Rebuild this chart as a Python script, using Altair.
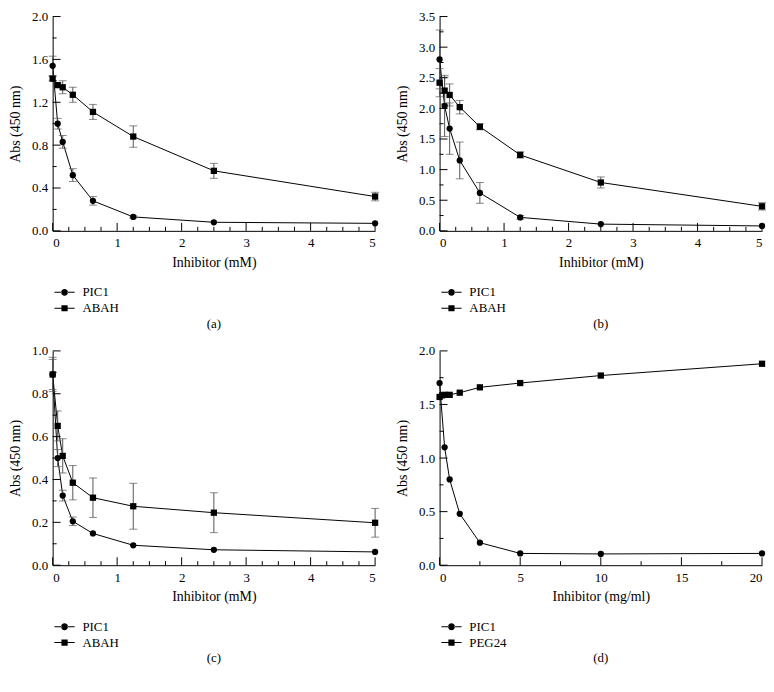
import altair as alt
import pandas as pd

FONT = "Liberation Serif, Times New Roman, serif"
W, H = 325, 216

# ---- panel (a)
a_pic1_x = [0, 0.078, 0.156, 0.3125, 0.625, 1.25, 2.5, 5]
a_pic1_y = [1.54, 1.00, 0.83, 0.52, 0.28, 0.13, 0.08, 0.07]
a_pic1_e = [0.09, 0.05, 0.06, 0.06, 0.04, 0.01, 0.0, 0.0]
a_abah_x = [0, 0.078, 0.156, 0.3125, 0.625, 1.25, 2.5, 5]
a_abah_y = [1.42, 1.36, 1.34, 1.27, 1.11, 0.88, 0.56, 0.32]
a_abah_e = [0.02, 0.02, 0.06, 0.07, 0.07, 0.10, 0.07, 0.04]

# ---- panel (b)
b_pic1_x = [0, 0.078, 0.156, 0.3125, 0.625, 1.25, 2.5, 5]
b_pic1_y = [2.80, 2.04, 1.67, 1.15, 0.62, 0.22, 0.11, 0.08]
b_pic1_e = [0.48, 0.50, 0.42, 0.30, 0.17, 0.03, 0.0, 0.0]
b_abah_x = [0, 0.078, 0.156, 0.3125, 0.625, 1.25, 2.5, 5]
b_abah_y = [2.42, 2.29, 2.22, 2.02, 1.70, 1.24, 0.79, 0.40]
b_abah_e = [0.23, 0.22, 0.18, 0.11, 0.05, 0.05, 0.09, 0.06]

# ---- panel (c)
c_pic1_x = [0, 0.078, 0.156, 0.3125, 0.625, 1.25, 2.5, 5]
c_pic1_y = [0.89, 0.50, 0.325, 0.205, 0.148, 0.093, 0.072, 0.062]
c_pic1_e = [0.07, 0.04, 0.025, 0.02, 0.0, 0.0, 0.0, 0.0]
c_abah_x = [0, 0.078, 0.156, 0.3125, 0.625, 1.25, 2.5, 5]
c_abah_y = [0.89, 0.65, 0.51, 0.385, 0.315, 0.275, 0.245, 0.198]
c_abah_e = [0.08, 0.07, 0.08, 0.08, 0.092, 0.107, 0.093, 0.067]

# ---- panel (d)
d_pic1_x = [0, 0.3125, 0.625, 1.25, 2.5, 5, 10, 20]
d_pic1_y = [1.70, 1.10, 0.80, 0.48, 0.21, 0.11, 0.105, 0.11]
d_pic1_e = [0, 0, 0, 0, 0, 0, 0, 0]
d_peg_x = [0, 0.156, 0.3125, 0.625, 1.25, 2.5, 5, 10, 20]
d_peg_y = [1.57, 1.585, 1.59, 1.59, 1.61, 1.66, 1.70, 1.77, 1.88]
d_peg_e = [0, 0, 0, 0, 0, 0, 0, 0, 0]

# ---- axes ticks / labels
x_mm_major = [0, 1, 2, 3, 4, 5]
x_mm_minor = [0.25, 0.5, 0.75, 1.25, 1.5, 1.75, 2.25, 2.5, 2.75,
              3.25, 3.5, 3.75, 4.25, 4.5, 4.75]
x_mg_major = [0, 5, 10, 15, 20]
x_mg_minor = [2.5, 7.5, 12.5, 17.5]
ya_major = [0.0, 0.4, 0.8, 1.2, 1.6, 2.0]
ya_minor = [0.2, 0.6, 1.0, 1.4, 1.8]
yb_major = [0.0, 0.5, 1.0, 1.5, 2.0, 2.5, 3.0, 3.5]
yb_minor = [0.25, 0.75, 1.25, 1.75, 2.25, 2.75, 3.25]
yc_major = [0.0, 0.2, 0.4, 0.6, 0.8, 1.0]
yc_minor = [0.1, 0.3, 0.5, 0.7, 0.9]
yd_major = [0.0, 0.5, 1.0, 1.5, 2.0]
yd_minor = [0.25, 0.75, 1.25, 1.75]

# legend glyphs: a short line (two thin bars) with the marker in the middle
CIRCLE_PATH = ("M-1.7,-0.085H-0.5V0.085H-1.7Z M0.5,-0.085H1.7V0.085H0.5Z "
               "M-0.58,0A0.58,0.58 0 1,0 0.58,0A0.58,0.58 0 1,0 -0.58,0Z")
SQUARE_PATH = ("M-1.7,-0.085H-0.5V0.085H-1.7Z M0.5,-0.085H1.7V0.085H0.5Z "
               "M-0.52,-0.52H0.52V0.52H-0.52Z")


def panel(s1, x1, y1, e1, s2, x2, y2, e2, xdom, xmaj, xmin, ydom, ymaj, ymin, xtitle, caption):
    rows = []
    for name, xs, ys, es in [(s1, x1, y1, e1), (s2, x2, y2, e2)]:
        for xv, yv, ev in zip(xs, ys, es):
            rows.append({"x": xv, "y": yv, "lo": yv - ev, "hi": yv + ev, "e": ev, "series": name})
    df = pd.DataFrame(rows)
    dom = [s1, s2]

    xs = alt.Scale(domain=xdom, nice=False, zero=False)
    ys = alt.Scale(domain=ydom, nice=False, zero=False)
    xaxis = alt.Axis(values=xmaj, format="d", title=xtitle)
    yaxis = alt.Axis(values=ymaj, format=".1f", title="Abs (450 nm)")
    X = alt.X("x:Q", scale=xs, axis=xaxis)
    Y = alt.Y("y:Q", scale=ys, axis=yaxis)

    base = alt.Chart(df)
    lines = base.mark_line(color="black", strokeWidth=1).encode(x=X, y=Y, detail="series:N")
    eb = base.transform_filter("datum.e > 0")
    rules = eb.mark_rule(color="#555", strokeWidth=1).encode(
        x=X, y=alt.Y("lo:Q", scale=ys, axis=yaxis), y2="hi:Q")
    cap_lo = eb.mark_tick(orient="horizontal", size=8, thickness=1, color="#555").encode(
        x=X, y=alt.Y("lo:Q", scale=ys, axis=yaxis))
    cap_hi = eb.mark_tick(orient="horizontal", size=8, thickness=1, color="#555").encode(
        x=X, y=alt.Y("hi:Q", scale=ys, axis=yaxis))
    pts = base.mark_point(filled=True, color="black", size=40, opacity=1).encode(
        x=X, y=Y,
        shape=alt.Shape("series:N", scale=alt.Scale(domain=dom, range=["circle", "square"]),
                        legend=None))
    leg = base.transform_filter("datum.y > 1000").mark_point(filled=True, color="black").encode(
        x=X, y=Y,
        shape=alt.Shape("series:N",
                        scale=alt.Scale(domain=dom, range=[CIRCLE_PATH, SQUARE_PATH]),
                        legend=alt.Legend(title=None, orient="none", legendX=5, legendY=H + 55,
                                          direction="vertical", symbolSize=144,
                                          symbolFillColor="black", symbolOpacity=1,
                                          labelFont=FONT, labelFontSize=13, labelColor="black",
                                          labelOffset=11, rowPadding=2, padding=0)))

    ytick_df = pd.DataFrame({"v": ymaj + ymin, "len": [8] * len(ymaj) + [4] * len(ymin)})
    xtick_df = pd.DataFrame({"v": xmaj + xmin, "len": [8] * len(xmaj) + [4] * len(xmin)})
    YT = alt.Y("v:Q", scale=ys, axis=yaxis)
    XT = alt.X("v:Q", scale=xs, axis=xaxis)
    ymajor_t = alt.Chart(ytick_df).transform_filter("datum.len == 8").mark_rule(color="black").encode(
        y=YT, x=alt.value(0), x2=alt.value(8))
    yminor_t = alt.Chart(ytick_df).transform_filter("datum.len == 4").mark_rule(color="black").encode(
        y=YT, x=alt.value(0), x2=alt.value(4))
    xmajor_t = alt.Chart(xtick_df).transform_filter("datum.len == 8").mark_rule(color="black").encode(
        x=XT, y=alt.value(H), y2=alt.value(H - 8))
    xminor_t = alt.Chart(xtick_df).transform_filter("datum.len == 4").mark_rule(color="black").encode(
        x=XT, y=alt.value(H), y2=alt.value(H - 4))

    return alt.layer(lines, rules, cap_lo, cap_hi, pts, leg,
                     ymajor_t, yminor_t, xmajor_t, xminor_t).resolve_scale(
        shape="independent").properties(
        width=W, height=H,
        title=alt.TitleParams(caption, orient="bottom", anchor="middle", font=FONT,
                              fontSize=13, fontWeight="normal", color="black", offset=3))


pa = panel("PIC1", a_pic1_x, a_pic1_y, a_pic1_e, "ABAH", a_abah_x, a_abah_y, a_abah_e,
           [0, 5], x_mm_major, x_mm_minor, [0, 2.0], ya_major, ya_minor, "Inhibitor (mM)", "(a)")
pb = panel("PIC1", b_pic1_x, b_pic1_y, b_pic1_e, "ABAH", b_abah_x, b_abah_y, b_abah_e,
           [0, 5], x_mm_major, x_mm_minor, [0, 3.5], yb_major, yb_minor, "Inhibitor (mM)", "(b)")
pc = panel("PIC1", c_pic1_x, c_pic1_y, c_pic1_e, "ABAH", c_abah_x, c_abah_y, c_abah_e,
           [0, 5], x_mm_major, x_mm_minor, [0, 1.0], yc_major, yc_minor, "Inhibitor (mM)", "(c)")
pd_ = panel("PIC1", d_pic1_x, d_pic1_y, d_pic1_e, "PEG24", d_peg_x, d_peg_y, d_peg_e,
            [0, 20], x_mg_major, x_mg_minor, [0, 2.0], yd_major, yd_minor, "Inhibitor (mg/ml)", "(d)")

chart = alt.concat(pa, pb, pc, pd_, columns=2, spacing={"row": 14, "column": 16}).properties(
    padding={"left": 0, "top": 0, "right": 0, "bottom": 0}
).configure_view(stroke=None).configure_axis(
    ticks=False, grid=False, domainColor="black", labelOverlap=False, labelBound=False,
    labelFont=FONT, labelFontSize=13, labelColor="black",
    titleFont=FONT, titleFontSize=14, titleFontWeight="normal", titleColor="black"
).configure_axisX(labelPadding=6, titlePadding=6).configure_axisY(labelPadding=5, titlePadding=9)

chart.save("out.html", embed_options={"renderer": "svg", "actions": False})
